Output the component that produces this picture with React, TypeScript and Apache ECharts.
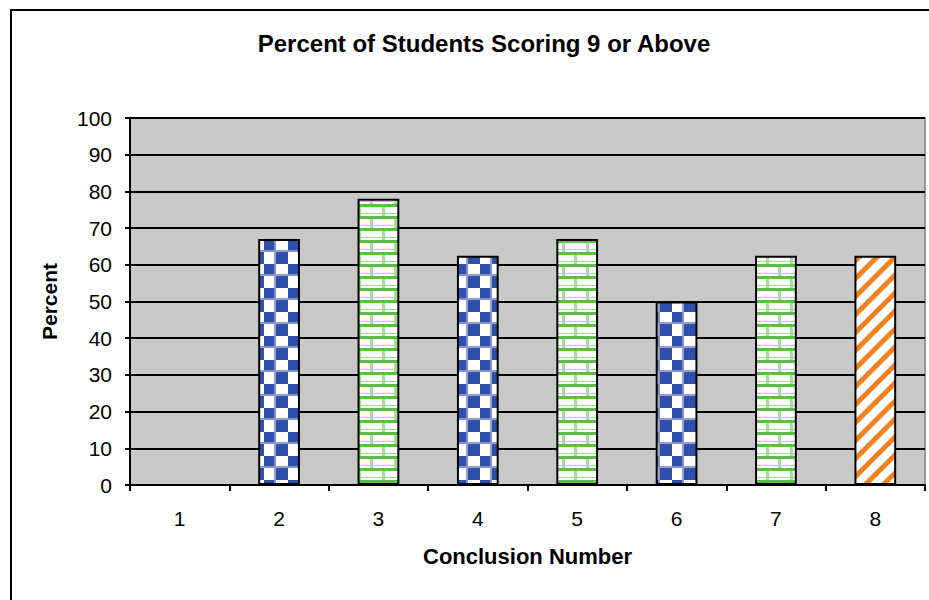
import React, { useEffect, useRef } from "react";
import * as echarts from "echarts";

const categories = ["1", "2", "3", "4", "5", "6", "7", "8"];
const percentValues = [0, 67, 78, 62.5, 67, 50, 62.5, 62.5];
const fillKinds = ["checker", "checker", "brick", "checker", "brick", "checker", "brick", "stripe"];
const yTicks = { min: 0, max: 100, interval: 10 };

function makeCanvas(w: number, h: number) {
  const c = document.createElement("canvas");
  c.width = w;
  c.height = h;
  return c;
}

function checkerPattern() {
  const c = makeCanvas(24, 24);
  const g = c.getContext("2d")!;
  g.fillStyle = "#ffffff";
  g.fillRect(0, 0, 24, 24);
  g.fillStyle = "#2f51a9";
  g.fillRect(0, 0, 12, 12);
  g.fillRect(12, 12, 12, 12);
  g.fillStyle = "rgba(143,150,204,0.9)";
  g.fillRect(10, 0, 2, 24);
  g.fillRect(0, 10, 24, 2);
  return c;
}

function brickPattern() {
  const c = makeCanvas(24, 24);
  const g = c.getContext("2d")!;
  g.fillStyle = "#ffffff";
  g.fillRect(0, 0, 24, 24);
  g.fillStyle = "#a9dc9c";
  g.fillRect(10, 0, 3, 12);
  g.fillRect(22, 12, 2, 12);
  g.fillRect(0, 12, 1, 12);
  g.fillRect(0, 9, 24, 1);
  g.fillRect(0, 21, 24, 1);
  g.fillStyle = "#5cbd48";
  g.fillRect(0, 0, 24, 3);
  g.fillRect(0, 12, 24, 3);
  return c;
}

function stripePattern() {
  const s = 18;
  const c = makeCanvas(s, s);
  const g = c.getContext("2d")!;
  g.fillStyle = "#ffffff";
  g.fillRect(0, 0, s, s);
  g.strokeStyle = "#f5821f";
  g.lineWidth = 5;
  g.lineCap = "square";
  const seg = (x1: number, y1: number, x2: number, y2: number) => {
    g.beginPath();
    g.moveTo(x1, y1);
    g.lineTo(x2, y2);
    g.stroke();
  };
  seg(-2, s + 2, s + 2, -2);
  seg(-s, s, s, -s);
  seg(0, 2 * s, 2 * s, 0);
  return c;
}

export default function App() {
  const ref = useRef<HTMLDivElement>(null);
  useEffect(() => {
    if (!ref.current) return;
    const chart = echarts.init(ref.current, undefined, { renderer: "svg" });
    const canvases: Record<string, HTMLCanvasElement> = {
      checker: checkerPattern(),
      brick: brickPattern(),
      stripe: stripePattern(),
    };
    const barData = percentValues.map((v, i) => {
      const cv = canvases[fillKinds[i]];
      return {
        value: v,
        itemStyle: {
          color: { image: cv, repeat: "repeat", imageWidth: cv.width, imageHeight: cv.height } as any,
          borderColor: "#000",
          borderWidth: 2,
        },
      };
    });
    const font = "'Liberation Sans', Arial, sans-serif";
    chart.setOption({
      animation: false,
      backgroundColor: "#ffffff",
      textStyle: { fontFamily: font },
      title: {
        text: "Percent of Students Scoring 9 or Above",
        left: 479,
        top: 26,
        textAlign: "center",
        textStyle: { fontFamily: font, fontWeight: "bold", fontSize: 24, color: "#000" },
      },
      graphic: [
        {
          type: "rect",
          shape: { x: 11, y: 10, width: 960, height: 640 },
          style: { fill: "none", stroke: "#000", lineWidth: 2 },
          silent: true,
          z: 100,
        },
      ],
      grid: {
        left: 130,
        top: 118,
        right: 4,
        bottom: 115,
        show: true,
        backgroundColor: "#c8c8c8",
        borderColor: "#999999",
        borderWidth: 2,
      },
      xAxis: {
        type: "category",
        data: categories,
        name: "Conclusion Number",
        nameLocation: "middle",
        nameGap: 60,
        nameTextStyle: { fontFamily: font, fontWeight: "bold", fontSize: 22, color: "#000" },
        axisLine: { show: true, lineStyle: { color: "#000", width: 2 } },
        axisTick: { show: true, alignWithLabel: false, length: 6, lineStyle: { color: "#000", width: 2 } },
        axisLabel: { fontFamily: font, fontSize: 21, color: "#000", margin: 23 },
        splitLine: { show: false },
      },
      yAxis: {
        type: "value",
        min: yTicks.min,
        max: yTicks.max,
        interval: yTicks.interval,
        name: "Percent",
        nameLocation: "middle",
        nameGap: 70,
        nameRotate: 90,
        nameTextStyle: { fontFamily: font, fontWeight: "bold", fontSize: 21, color: "#000" },
        axisLine: { show: true, lineStyle: { color: "#000", width: 2 } },
        axisTick: { show: true, length: 5, lineStyle: { color: "#000", width: 2 } },
        axisLabel: { fontFamily: font, fontSize: 21, color: "#000", margin: 18 },
        splitLine: { show: true, lineStyle: { color: "#000", width: 2 } },
      },
      series: [
        {
          type: "bar",
          data: barData,
          barWidth: "42%",
        },
      ],
    });
    return () => chart.dispose();
  }, []);
  return (
    <div
      ref={ref}
      style={{ position: "fixed", left: 0, top: 0, width: 929, height: 600, background: "#fff" }}
    />
  );
}
